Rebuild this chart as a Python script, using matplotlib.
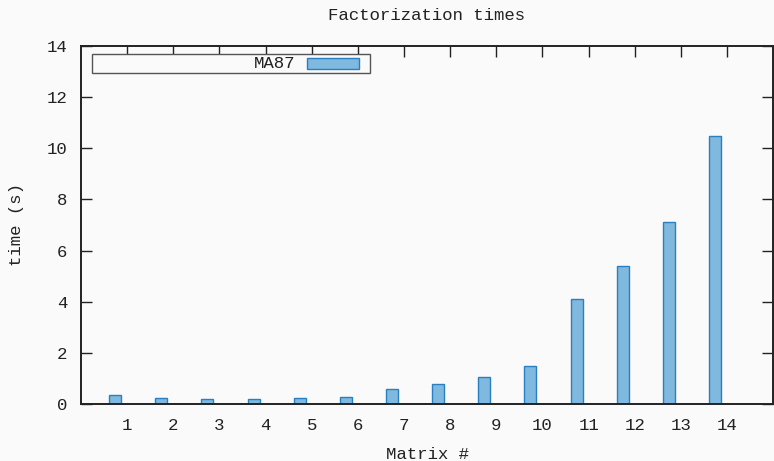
# Factorization times - MA87 bar chart (gnuplot-like look)
import matplotlib
matplotlib.use("Agg")
import matplotlib.pyplot as plt
from matplotlib.patches import Rectangle

# Data
matrices = list(range(1, 15))
tick_labels = [str(m) for m in matrices]
ma87_times = [0.35, 0.22, 0.18, 0.20, 0.22, 0.27, 0.57, 0.77, 1.07, 1.47, 4.1, 5.4, 7.1, 10.5]

plt.rcParams['font.family'] = ['Liberation Mono', 'DejaVu Sans Mono']
fsize = 12.5

bg = '#fafafa'
face = '#80b9e0'
edge = '#2a7fc0'
txt = '#222222'

W, H = 774, 461
fig = plt.figure(figsize=(W / 100, H / 100), dpi=100, facecolor=bg)
ax = fig.add_axes([0.1047, 0.1236, 0.8943, 0.7766], facecolor=bg)

# bars sit a bit left of each category tick
bar_w = 0.26
xpos = [m - 0.26 for m in matrices]
ax.bar(xpos, ma87_times, width=bar_w, color=face, edgecolor=edge, linewidth=1.0)

ax.set_xlim(0, 15)
ax.set_ylim(0, 14)
ax.set_xticks(matrices)
ax.set_xticklabels(tick_labels, fontsize=fsize)
ax.set_yticks(range(0, 15, 2))
ax.set_yticklabels([str(v) for v in range(0, 15, 2)], fontsize=fsize)

ax.tick_params(axis='x', bottom=False, top=True, labelbottom=True, direction='in',
               length=8, width=1.0, pad=10, colors=txt)
ax.tick_params(axis='y', left=True, right=True, direction='in', length=8, width=1.0,
               pad=10, colors=txt)

for side in ['left', 'bottom', 'top', 'right']:
    ax.spines[side].set_linewidth(1.4)
    ax.spines[side].set_color(txt)

# title and axis labels placed in figure pixels
fig.text(427 / W, 1 - 15 / H, 'Factorization times', ha='center', va='center',
         fontsize=fsize, color=txt)
fig.text(427 / W, 1 - 454 / H, 'Matrix #', ha='center', va='center',
         fontsize=fsize, color=txt)
fig.text(17 / W, 1 - 225 / H, 'time (s)', ha='center', va='center', rotation=90,
         fontsize=fsize, color=txt)

# gnuplot style key box
ax.add_patch(Rectangle((0.0159, 0.9246), 0.4011, 0.0531, transform=ax.transAxes,
                       facecolor=bg, edgecolor='#555555', linewidth=1.0, zorder=5))
ax.text(0.309, 0.951, 'MA87', transform=ax.transAxes, ha='right', va='center',
        fontsize=fsize, color=txt, zorder=6)
ax.add_patch(Rectangle((0.326, 0.9358), 0.075, 0.0307, transform=ax.transAxes,
                       facecolor=face, edgecolor=edge, linewidth=1.0, zorder=6))

plt.savefig('out.png', dpi=100, facecolor=bg)
